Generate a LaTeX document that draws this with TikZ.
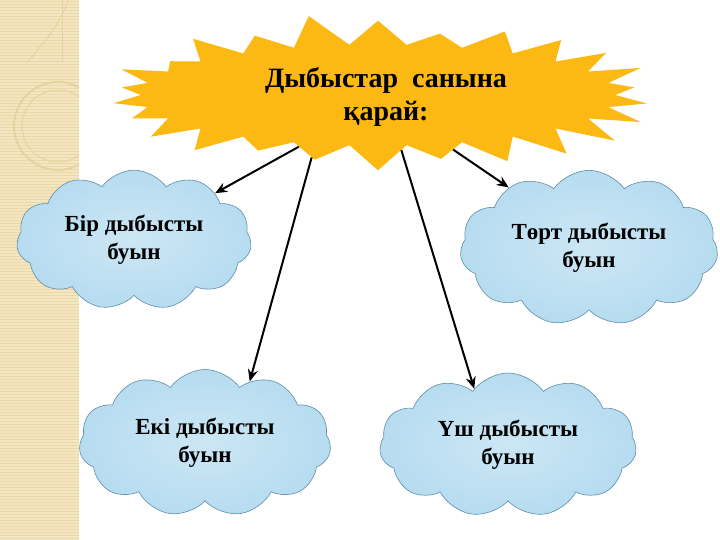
\documentclass[tikz,border=0pt]{standalone}
\usepackage{fontspec}
\setmainfont{Liberation Serif}
\usetikzlibrary{shapes.symbols,arrows.meta}
\definecolor{burst}{RGB}{252,184,19}
\definecolor{cloudfill}{RGB}{182,220,240}
\definecolor{cloudedge}{RGB}{95,140,170}
\definecolor{paper}{RGB}{245,230,194}
\definecolor{paperline}{RGB}{236,215,168}
\definecolor{paperdeco}{RGB}{230,212,160}
\tikzset{
  cloudbox/.style={cloud, cloud puffs=11, cloud puff arc=110, aspect=1.8, draw=cloudedge,
    line width=0.6pt, inner color=cloudfill!70!white, outer color=cloudfill,
    align=center, font=\bfseries\fontsize{23}{28}\selectfont,
    minimum width=235pt, minimum height=130pt},
  arr/.style={-{Stealth[length=12pt,width=10pt]}, line width=2pt}
}
\begin{document}
\begin{tikzpicture}[x=1pt,y=-1pt]
\useasboundingbox (0,0) rectangle (720,540);
\fill[white] (0,0) rectangle (720,540);
% paper strip on the left
\fill[paper] (0,0) rectangle (79,540);
\foreach \y in {1.5,4.5,...,540}
\draw[paperline,line width=0.8pt] (0,\y) -- (79,\y);
\begin{scope}
\clip (0,0) rectangle (79,540);
\draw[paperdeco,line width=2pt] (58,126) circle[radius=44pt];
\draw[paperdeco,line width=1pt] (58,126) circle[radius=36pt];
\draw[paperdeco,line width=1pt] (0,62) -- (62,62) -- (62,0);
\draw[paperdeco,line width=1pt] (28,62) .. controls (45,40) and (60,25) .. (68,0);
\end{scope}
% the burst, stretched sideways
\node[starburst, fill=burst, starburst points=26, starburst point height=32pt,
  random starburst=11, xscale=1.7, transform shape,
  minimum width=343pt, minimum height=165pt] (topic) at (378,95) {};
\node[align=center, font=\bfseries\fontsize{28}{33}\selectfont] (topictext) at (386,97)
  {Дыбыстар~ санына\\қарай:};
% clouds
\node[cloudbox] (bir) at (134,240) {Бір дыбысты\\буын};
\node[cloudbox, minimum width=258pt, minimum height=137pt] (tort) at (589,248) {Төрт дыбысты\\буын};
\node[cloudbox, minimum width=252pt, minimum height=147pt] (eki) at (205,443) {Екі дыбысты\\буын};
\node[cloudbox, minimum width=257pt, minimum height=144pt] (ush) at (508,445) {Үш дыбысты\\буын};
% arrows
\draw[arr] (topic.228) -- (bir.30);
\draw[arr] (topic.238) -- (eki.54);
\draw[arr] (topic.284) -- (ush.121);
\draw[arr] (topic.309) -- (tort.143);
\end{tikzpicture}
\end{document}
